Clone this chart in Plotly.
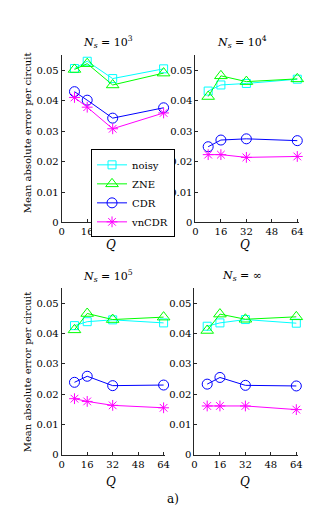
import plotly.graph_objects as go

Q = [8, 16, 32, 64]
series_names = ["noisy", "ZNE", "CDR", "vnCDR"]
panel_titles = ["<i>N</i><sub><i>s</i></sub> = 10<sup>3</sup>",
                "<i>N</i><sub><i>s</i></sub> = 10<sup>4</sup>",
                "<i>N</i><sub><i>s</i></sub> = 10<sup>5</sup>",
                "<i>N</i><sub><i>s</i></sub> = ∞"]

noisy_1e3 = [0.0506, 0.0530, 0.0473, 0.0505]
zne_1e3 = [0.0503, 0.0522, 0.0452, 0.0491]
cdr_1e3 = [0.0430, 0.0402, 0.0343, 0.0377]
vncdr_1e3 = [0.0411, 0.0379, 0.0308, 0.0360]
noisy_1e4 = [0.0432, 0.0452, 0.0457, 0.0471]
zne_1e4 = [0.0414, 0.0482, 0.0463, 0.0472]
cdr_1e4 = [0.0249, 0.0271, 0.0275, 0.0269]
vncdr_1e4 = [0.0223, 0.0223, 0.0214, 0.0217]
noisy_1e5 = [0.0426, 0.0439, 0.0445, 0.0435]
zne_1e5 = [0.0412, 0.0466, 0.0446, 0.0454]
cdr_1e5 = [0.0239, 0.0259, 0.0228, 0.0230]
vncdr_1e5 = [0.0185, 0.0176, 0.0163, 0.0155]
noisy_inf = [0.0424, 0.0435, 0.0446, 0.0434]
zne_inf = [0.0410, 0.0464, 0.0447, 0.0455]
cdr_inf = [0.0233, 0.0255, 0.0229, 0.0227]
vncdr_inf = [0.0161, 0.0161, 0.0161, 0.0149]

x_ticks = [0, 16, 32, 48, 64]
y_ticks = [0, 0.01, 0.02, 0.03, 0.04, 0.05]
y_ticklabels = ["0", "0.01", "0.02", "0.03", "0.04", "0.05"]

panels = [
    [noisy_1e3, zne_1e3, cdr_1e3, vncdr_1e3],
    [noisy_1e4, zne_1e4, cdr_1e4, vncdr_1e4],
    [noisy_1e5, zne_1e5, cdr_1e5, vncdr_1e5],
    [noisy_inf, zne_inf, cdr_inf, vncdr_inf],
]

colors = ["#00ffff", "#00ff00", "#0000ff", "#ff00ff"]
symbols = ["square-open", "triangle-up-open", "circle-open", "asterisk-open"]
msizes = [8, 11, 10, 9]

W, H = 332, 519
FONT = "DejaVu Serif"
AX = "#262626"

def px2x(p):
    return p / W

def px2y(p):
    return (H - p) / H

xdoms = [(52, 158), (189, 295), (52, 158), (188, 294)]
ydoms = [(217, 47.7), (217, 47.7), (452, 283.3), (452, 283.3)]

fig = go.Figure()
for i, data in enumerate(panels):
    xa = "x" if i == 0 else f"x{i+1}"
    ya = "y" if i == 0 else f"y{i+1}"
    for j, vals in enumerate(data):
        fig.add_trace(go.Scatter(
            x=Q, y=vals, mode="lines+markers", name=series_names[j],
            line=dict(color=colors[j], width=1),
            marker=dict(symbol=symbols[j], size=msizes[j], color=colors[j],
                        line=dict(color=colors[j], width=1)),
            xaxis=xa, yaxis=ya, showlegend=(i == 0), cliponaxis=False))

layout = dict(
    width=W, height=H, margin=dict(l=0, r=0, t=0, b=0),
    paper_bgcolor="white", plot_bgcolor="white",
    font=dict(family=FONT, size=10, color="#000000"),
    legend=dict(x=px2x(82), y=px2y(143), xanchor="left", yanchor="top",
                bgcolor="white", bordercolor="#000000", borderwidth=1,
                font=dict(family=FONT, size=10), tracegroupgap=0,
                itemwidth=30),
)
for i in range(4):
    sx = "" if i == 0 else str(i + 1)
    layout[f"xaxis{sx}"] = dict(
        domain=[px2x(xdoms[i][0]), px2x(xdoms[i][1])], range=[0, 65],
        anchor=f"y{sx}", tickvals=x_ticks, ticks="inside", ticklen=3,
        tickcolor=AX, showline=True, linecolor=AX, linewidth=1,
        showgrid=False, zeroline=False, tickfont=dict(size=10, family=FONT))
    layout[f"yaxis{sx}"] = dict(
        domain=[px2y(ydoms[i][0]), px2y(ydoms[i][1])], range=[0, 0.055],
        anchor=f"x{sx}", tickvals=y_ticks, ticktext=y_ticklabels,
        ticks="inside", ticklen=3, tickcolor=AX, showline=True,
        linecolor=AX, linewidth=1, showgrid=False, zeroline=False,
        tickfont=dict(size=10, family=FONT))
fig.update_layout(**layout)

def note(text, x, y, size, angle=0):
    return dict(text=text, x=px2x(x), y=px2y(y), xref="paper", yref="paper",
                xanchor="center", yanchor="middle", textangle=angle,
                showarrow=False, font=dict(size=size, family=FONT, color="#000000"))

ann = []
title_pos = [(99, 34), (237, 34), (99, 271), (237, 271)]
for i, (tx, ty) in enumerate(title_pos):
    ann.append(note(panel_titles[i], tx, ty, 11))
q_pos = [(102, 240), (240, 240), (102, 480), (240, 480)]
for (qx, qy) in q_pos:
    ann.append(note("<i>Q</i>", qx, qy, 12))
for yc in (126, 368):
    ann.append(note("Mean absolute error per circuit", 17, yc, 10, -90))
ann.append(note("a)", 166, 497, 12))
fig.update_layout(annotations=ann)

fig.write_html("out.html")
